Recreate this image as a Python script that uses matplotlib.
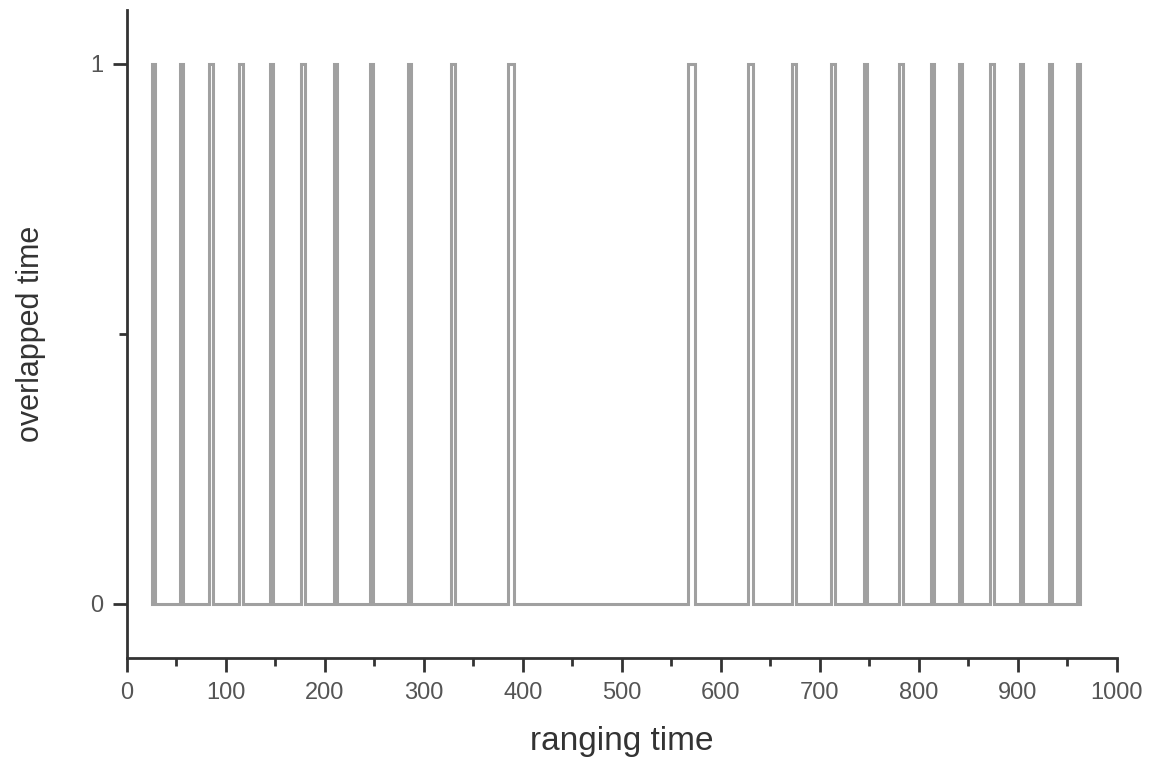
import matplotlib.pyplot as plt
import numpy as np

# pulse start positions (ranging time) and widths
pulse_start = [25, 54, 83, 113, 144, 176, 209, 246, 284, 327, 385,
               567, 627, 672, 711, 745, 780, 812, 841, 872, 902, 931, 960]
pulse_width = [3, 3, 4, 4, 4, 4, 3, 3, 3, 4, 6,
               7, 5, 4, 4, 3, 4, 3, 3, 4, 3, 4, 3]
low, high = 0, 1

# build the step line: 0 -> 1 at start, 1 -> 0 at start + width
xs, ys = [], []
for s, w in zip(pulse_start, pulse_width):
    xs += [s, s, s + w, s + w]
    ys += [low, high, high, low]

plt.rcParams['font.family'] = ['Liberation Sans', 'DejaVu Sans']
fig = plt.figure(figsize=(11.49, 7.58), dpi=100)
ax = fig.add_axes([0.1105, 0.132, 0.8615, 0.855])

ax.plot(xs, ys, color='#a0a0a0', lw=2.2, solid_joinstyle='miter')

ax.set_xlim(0, 1000)
ax.set_ylim(-0.1, 1.1)
ax.set_xticks(np.arange(0, 1001, 100))
ax.set_xticks(np.arange(50, 1000, 100), minor=True)
ax.set_yticks([0, 1])
ax.set_yticks([0.5], minor=True)

for side in ['top', 'right']:
    ax.spines[side].set_visible(False)
for side in ['left', 'bottom']:
    ax.spines[side].set_linewidth(2)
    ax.spines[side].set_color('#333333')

ax.tick_params(which='major', direction='out', length=10, width=2,
               color='#333333', labelsize=17, labelcolor='#555555', pad=7)
ax.tick_params(which='minor', direction='out', length=6, width=2, color='#333333')

ax.set_xlabel('ranging time', fontsize=24, color='#333333', labelpad=16)
ax.set_ylabel('overlapped time', fontsize=22, color='#333333', labelpad=32)

fig.savefig('out.png', dpi=100)
